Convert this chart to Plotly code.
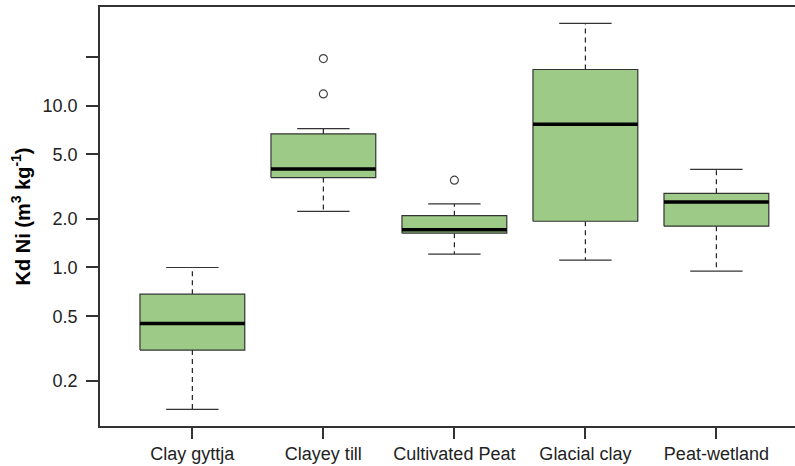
import math
import plotly.graph_objects as go

categories = ["Clay gyttja", "Clayey till", "Cultivated Peat", "Glacial clay", "Peat-wetland"]
lower_whisker = [0.133, 2.22, 1.21, 1.11, 0.949]
q1 = [0.309, 3.59, 1.63, 1.93, 1.80]
median = [0.451, 4.06, 1.71, 7.67, 2.54]
q3 = [0.684, 6.68, 2.09, 16.7, 2.87]
upper_whisker = [1.0, 7.21, 2.47, 32.2, 4.04]
outlier_cat = ["Clayey till", "Clayey till", "Cultivated Peat"]
outlier_val = [19.5, 11.8, 3.46]

tick_vals = [0.2, 0.5, 1.0, 2.0, 5.0, 10.0, 20.0]
tick_text = ["0.2", "0.5", "1.0", "2.0", "5.0", "10.0", " "]

FILL = "#9DCB87"
EDGE = "#333333"
HALF = 0.4
CAP = 0.2

fig = go.Figure()
pos = {c: i + 1 for i, c in enumerate(categories)}

for i, c in enumerate(categories):
    p = pos[c]
    # dashed whiskers
    fig.add_trace(go.Scatter(x=[p, p, None, p, p],
                             y=[q3[i], upper_whisker[i], None, q1[i], lower_whisker[i]],
                             mode="lines", line=dict(color="#222222", width=1.2, dash="5px,4px"),
                             hoverinfo="skip", showlegend=False))
    # caps
    fig.add_trace(go.Scatter(x=[p - CAP, p + CAP, None, p - CAP, p + CAP],
                             y=[upper_whisker[i], upper_whisker[i], None, lower_whisker[i], lower_whisker[i]],
                             mode="lines", line=dict(color=EDGE, width=1.2),
                             hoverinfo="skip", showlegend=False))
    # box
    fig.add_trace(go.Scatter(x=[p - HALF, p + HALF, p + HALF, p - HALF, p - HALF],
                             y=[q1[i], q1[i], q3[i], q3[i], q1[i]],
                             mode="lines", fill="toself", fillcolor=FILL,
                             line=dict(color=EDGE, width=1.2),
                             hoverinfo="skip", showlegend=False))
    # median
    fig.add_trace(go.Scatter(x=[p - HALF, p + HALF], y=[median[i], median[i]],
                             mode="lines", line=dict(color="black", width=3.5),
                             hoverinfo="skip", showlegend=False))

fig.add_trace(go.Scatter(x=[pos[c] for c in outlier_cat], y=outlier_val, mode="markers",
                         marker=dict(symbol="circle-open", size=8, color="#444444",
                                     line=dict(width=1.2, color="#444444")),
                         hoverinfo="skip", showlegend=False))

fig.update_layout(
    width=795, height=466,
    margin=dict(l=100, r=0, t=7, b=40),
    plot_bgcolor="white", paper_bgcolor="white",
    font=dict(family="Liberation Sans, Arial, sans-serif", size=18, color="#222222"),
    showlegend=False,
)
fig.update_xaxes(
    range=[0.295, 5.6], tickvals=[pos[c] for c in categories], ticktext=categories,
    showgrid=False, zeroline=False, showline=True, mirror=True, linecolor=EDGE, linewidth=1.5,
    ticks="outside", ticklen=11, tickwidth=1.5, tickcolor=EDGE,
)
fig.update_yaxes(
    type="log", range=[math.log10(0.105), math.log10(40.6)],
    tickvals=tick_vals, ticktext=tick_text,
    showgrid=False, zeroline=False, showline=True, mirror=False, linecolor=EDGE, linewidth=1.5,
    ticks="outside", ticklen=12, tickwidth=1.5, tickcolor=EDGE, ticklabelstandoff=5,
    title=dict(text="<b>Kd Ni (m<sup>3</sup> kg<sup>-1</sup>)</b>", standoff=7,
               font=dict(size=20, color="black")),
)

fig.write_html("out.html", config={"displayModeBar": False},
               post_script="document.body.style.margin='0';document.body.style.padding='0';")
